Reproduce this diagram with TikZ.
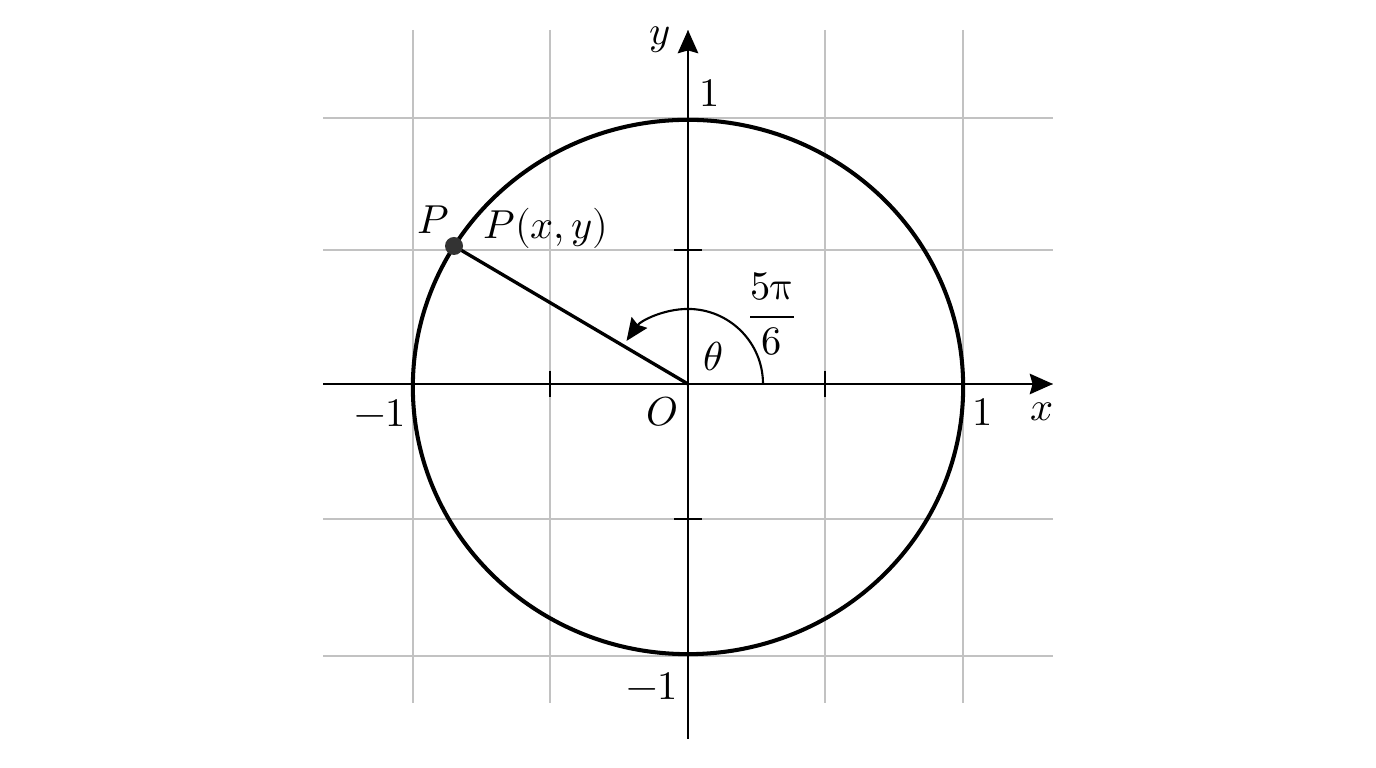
\documentclass[tikz,border=0pt]{standalone}
\usepackage{unicode-math}
\setmathfont{Latin Modern Math}
\usetikzlibrary{arrows.meta}
\begin{document}
\begin{tikzpicture}[x=0.01cm,y=-0.01cm,
  font=\fontsize{11.5}{14}\selectfont,
  gridline/.style={draw=black!24, line width=0.3pt},
  axisline/.style={draw=black, line width=0.75pt, -{Stealth[length=6.6pt,width=5.8pt,inset=0.8pt]}},
  tickline/.style={draw=black, line width=0.75pt},
  curveline/.style={draw=black, line width=1.15pt},
  rayline/.style={draw=black, line width=0.95pt},
  arcline/.style={draw=black, line width=0.6pt, -{Stealth[length=6.4pt,width=5.4pt,inset=0.8pt]}},
  lbl/.style={inner sep=0pt}]
\useasboundingbox (0,0) rectangle (1376,768);
% grid
\foreach \gx in {413,550,688,825,963}{
  \draw[gridline] (\gx,30) -- (\gx,703);
}
\foreach \gy in {118,250,384,519,656}{
  \draw[gridline] (323,\gy) -- (1053,\gy);
}
% axes
\coordinate (O) at (688,384);
\coordinate (xs) at (323,384);
\coordinate (xe) at (1053,384);
\coordinate (ys) at (688,739);
\coordinate (ye) at (688,30);
\draw[axisline] (xs) -- (xe);
\draw[axisline] (ys) -- (ye);
% ticks
\foreach \tx in {550,825}{
  \draw[tickline] (\tx,371) -- (\tx,397);
}
\foreach \ty in {250,519}{
  \draw[tickline] (674,\ty) -- (702,\ty);
}
% circle
\coordinate (C) at (688,387);
\draw[curveline] (C) ellipse [x radius=2.75cm, y radius=2.67cm];
% ray and point
\coordinate (P) at (454,246);
\draw[rayline] (O) -- (P);
\fill[black!80] (P) circle[radius=0.09cm];
% angle arc
\coordinate (A0) at (763,384);
\draw[arcline] (A0) arc[start angle=0, end angle=145, radius=0.75cm];
% labels
\node[lbl] (ylab) at (660,40) {$y$};
\node[lbl] (xlab) at (1042,412) {$x$};
\node[lbl] (one1) at (710,93) {$1$};
\node[lbl] (one2) at (983,412) {$1$};
\node[lbl] (mone1) at (380,413) {$-1$};
\node[lbl] (mone2) at (652,686) {$-1$};
\node[lbl] (Olab) at (662,412) {$O$};
\node[lbl] (Plab) at (433,220) {$P$};
\node[lbl] (Pxy) at (546,228) {$P(x,y)$};
\node[lbl] (th) at (713,356) {$\theta$};
\node[lbl] (frac) at (772,314) {$\dfrac{5\symup{\pi}}{6}$};
\end{tikzpicture}
\end{document}
